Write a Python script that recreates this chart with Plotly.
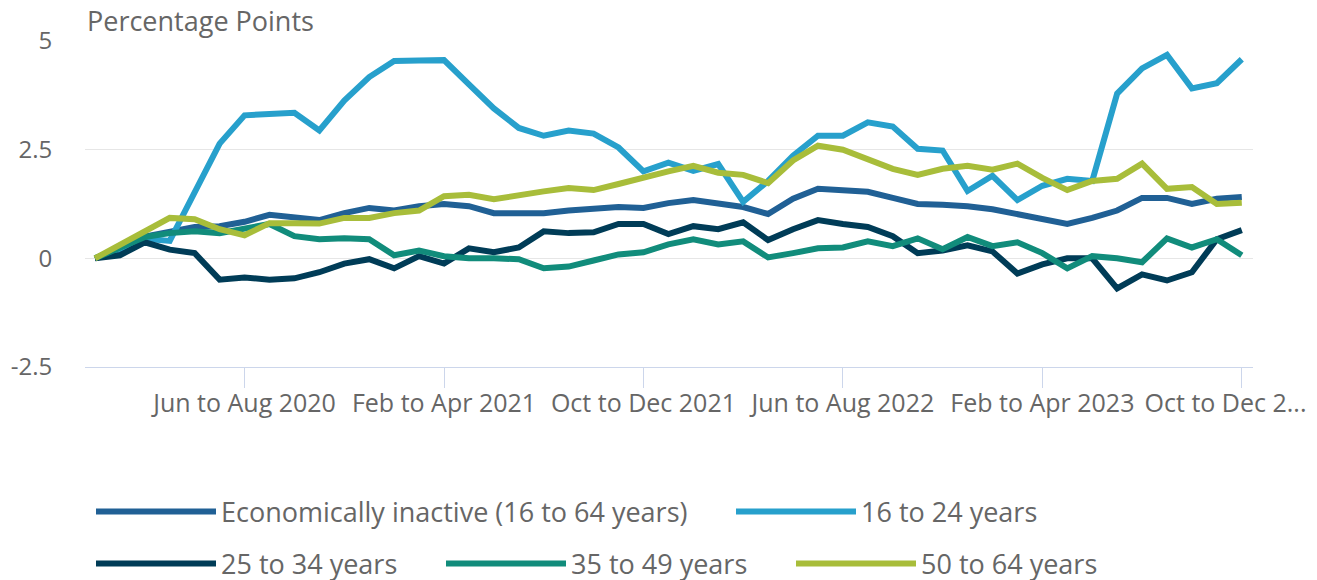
import plotly.graph_objects as go

months = ["Jan", "Feb", "Mar", "Apr", "May", "Jun", "Jul", "Aug", "Sep", "Oct", "Nov", "Dec"]
# rolling three-month periods, Dec to Feb 2020 ... Oct to Dec 2023
periods = []
for k in range(47):
    end = 1 + k  # month index of period end (0 = Jan 2020)
    y = 2020 + end // 12
    periods.append(f"{months[(end - 2) % 12]} to {months[end % 12]} {y}")

tick_idx = [6, 14, 22, 30, 38, 46]
tick_text = ["Jun to Aug 2020", "Feb to Apr 2021", "Oct to Dec 2021",
             "Jun to Aug 2022", "Feb to Apr 2023", "Oct to Dec 2..." + "\u00a0" * 5]

econ_inactive = [0, 0.2, 0.5, 0.62, 0.72, 0.74, 0.84, 1.0, 0.93, 0.88, 1.04, 1.16, 1.1, 1.2, 1.25, 1.2,
                 1.04, 1.04, 1.04, 1.1, 1.13, 1.18, 1.16, 1.27, 1.34, 1.27, 1.18, 1.02, 1.37, 1.6, 1.55,
                 1.53, 1.39, 1.25, 1.23, 1.2, 1.13, 1.02, 0.93, 0.79, 0.93, 1.1, 1.39, 1.39, 1.25, 1.37, 1.41]
age_16_24 = [0, 0.22, 0.45, 0.4, 1.52, 2.64, 3.29, 3.33, 3.35, 2.94, 3.63, 4.17, 4.54, 4.55, 4.56, 4.0,
             3.45, 3.0, 2.82, 2.94, 2.87, 2.55, 2.0, 2.2, 2.01, 2.17, 1.3, 1.78, 2.36, 2.82, 2.82,
             3.13, 3.03, 2.52, 2.48, 1.55, 1.9, 1.34, 1.67, 1.83, 1.78, 3.79, 4.37, 4.68, 3.91, 4.03, 4.58]
age_25_34 = [0, 0.07, 0.37, 0.2, 0.12, -0.49, -0.44, -0.49, -0.46, -0.32, -0.12, -0.02, -0.23, 0.05, -0.12, 0.23,
             0.14, 0.25, 0.62, 0.58, 0.6, 0.79, 0.79, 0.56, 0.74, 0.67, 0.83, 0.42, 0.67, 0.88, 0.79,
             0.72, 0.51, 0.12, 0.18, 0.3, 0.16, -0.35, -0.14, 0.0, 0.0, -0.69, -0.37, -0.51, -0.32, 0.44, 0.65]
age_35_49 = [0, 0.25, 0.49, 0.58, 0.62, 0.58, 0.67, 0.79, 0.51, 0.44, 0.46, 0.44, 0.07, 0.18, 0.05, 0.0,
             0.0, -0.02, -0.23, -0.19, -0.05, 0.09, 0.14, 0.32, 0.44, 0.32, 0.39, 0.02, 0.12, 0.23, 0.25,
             0.39, 0.28, 0.46, 0.21, 0.49, 0.28, 0.37, 0.12, -0.23, 0.05, 0.0, -0.09, 0.46, 0.25, 0.44, 0.07]
age_50_64 = [0, 0.3, 0.62, 0.93, 0.9, 0.67, 0.53, 0.81, 0.81, 0.8, 0.93, 0.93, 1.04, 1.1, 1.43, 1.46,
             1.36, 1.46, 1.54, 1.62, 1.57, 1.71, 1.87, 2.0, 2.13, 1.97, 1.92, 1.73, 2.25, 2.59, 2.5,
             2.27, 2.06, 1.92, 2.06, 2.13, 2.04, 2.18, 1.85, 1.57, 1.78, 1.83, 2.18, 1.6, 1.64, 1.25, 1.28]

series_names = ["Economically inactive (16 to 64 years)", "16 to 24 years",
                "25 to 34 years", "35 to 49 years", "50 to 64 years"]
series_values = [econ_inactive, age_16_24, age_25_34, age_35_49, age_50_64]
series_colors = ["#206095", "#27a0cc", "#003c57", "#118c7b", "#a8bd3a"]
legend_ids = ["legend", "legend2", "legend3", "legend4", "legend5"]
# legend item placement (symbol start x, row centre y) in pixels
legend_px = [(100, 512), (740, 512), (100, 564), (450, 564), (800, 564)]

FONT = "Open Sans"
GREY = "#666666"
W, H = 1317, 580
L, R, T, B = 85, 1253, 41, 367

fig = go.Figure()
for name, vals, col, lg in zip(series_names, series_values, series_colors, legend_ids):
    fig.add_trace(go.Scatter(
        x=periods, y=vals, name=name, mode="lines",
        line=dict(color=col, width=6),
        legend=lg, showlegend=True,
    ))

legends = {}
for lg, (px, py) in zip(legend_ids, legend_px):
    legends[lg] = dict(
        orientation="h", xref="container", yref="container",
        x=(px - 9) / W, y=1 - py / H, xanchor="left", yanchor="middle",
        font=dict(family=FONT, size=27, color=GREY),
        itemwidth=120, bgcolor="rgba(0,0,0,0)",
    )

fig.update_layout(
    width=W, height=H,
    showlegend=True,
    margin=dict(l=L, r=W - R, t=T, b=H - B, pad=0, autoexpand=False),
    paper_bgcolor="white", plot_bgcolor="white",
    font=dict(family=FONT, color=GREY, size=25),
    xaxis=dict(
        type="category",
        range=[-0.4, 46.45],
        tickmode="array",
        tickvals=[periods[i] for i in tick_idx],
        ticktext=tick_text,
        ticks="outside", ticklen=20, tickwidth=1, tickcolor="#ccd6eb",
        showline=True, linecolor="#ccd6eb", linewidth=1,
        showgrid=False, zeroline=False, automargin=False,
        tickfont=dict(family=FONT, size=25, color=GREY),
        tickangle=0, ticklabelstandoff=-6,
    ),
    yaxis=dict(
        range=[-2.5, 5],
        tickmode="array",
        tickvals=[-2.5, 0, 2.5, 5],
        ticktext=["-2.5", "0", "2.5", "5"],
        showgrid=True, gridcolor="#e6e6e6", gridwidth=1,
        zeroline=False, showline=False, automargin=False,
        ticks="outside", ticklen=27, tickcolor="rgba(0,0,0,0)",
        tickfont=dict(family=FONT, size=24, color=GREY),
    ),
    annotations=[dict(
        text="Percentage Points", xref="paper", yref="paper",
        x=0, y=1, xanchor="left", yanchor="bottom", yshift=0, showarrow=False,
        font=dict(family=FONT, size=27, color=GREY),
    )],
    **legends,
)

fig.write_html("out.html", config={"displayModeBar": False},
               post_script="document.body.style.margin='0';")
